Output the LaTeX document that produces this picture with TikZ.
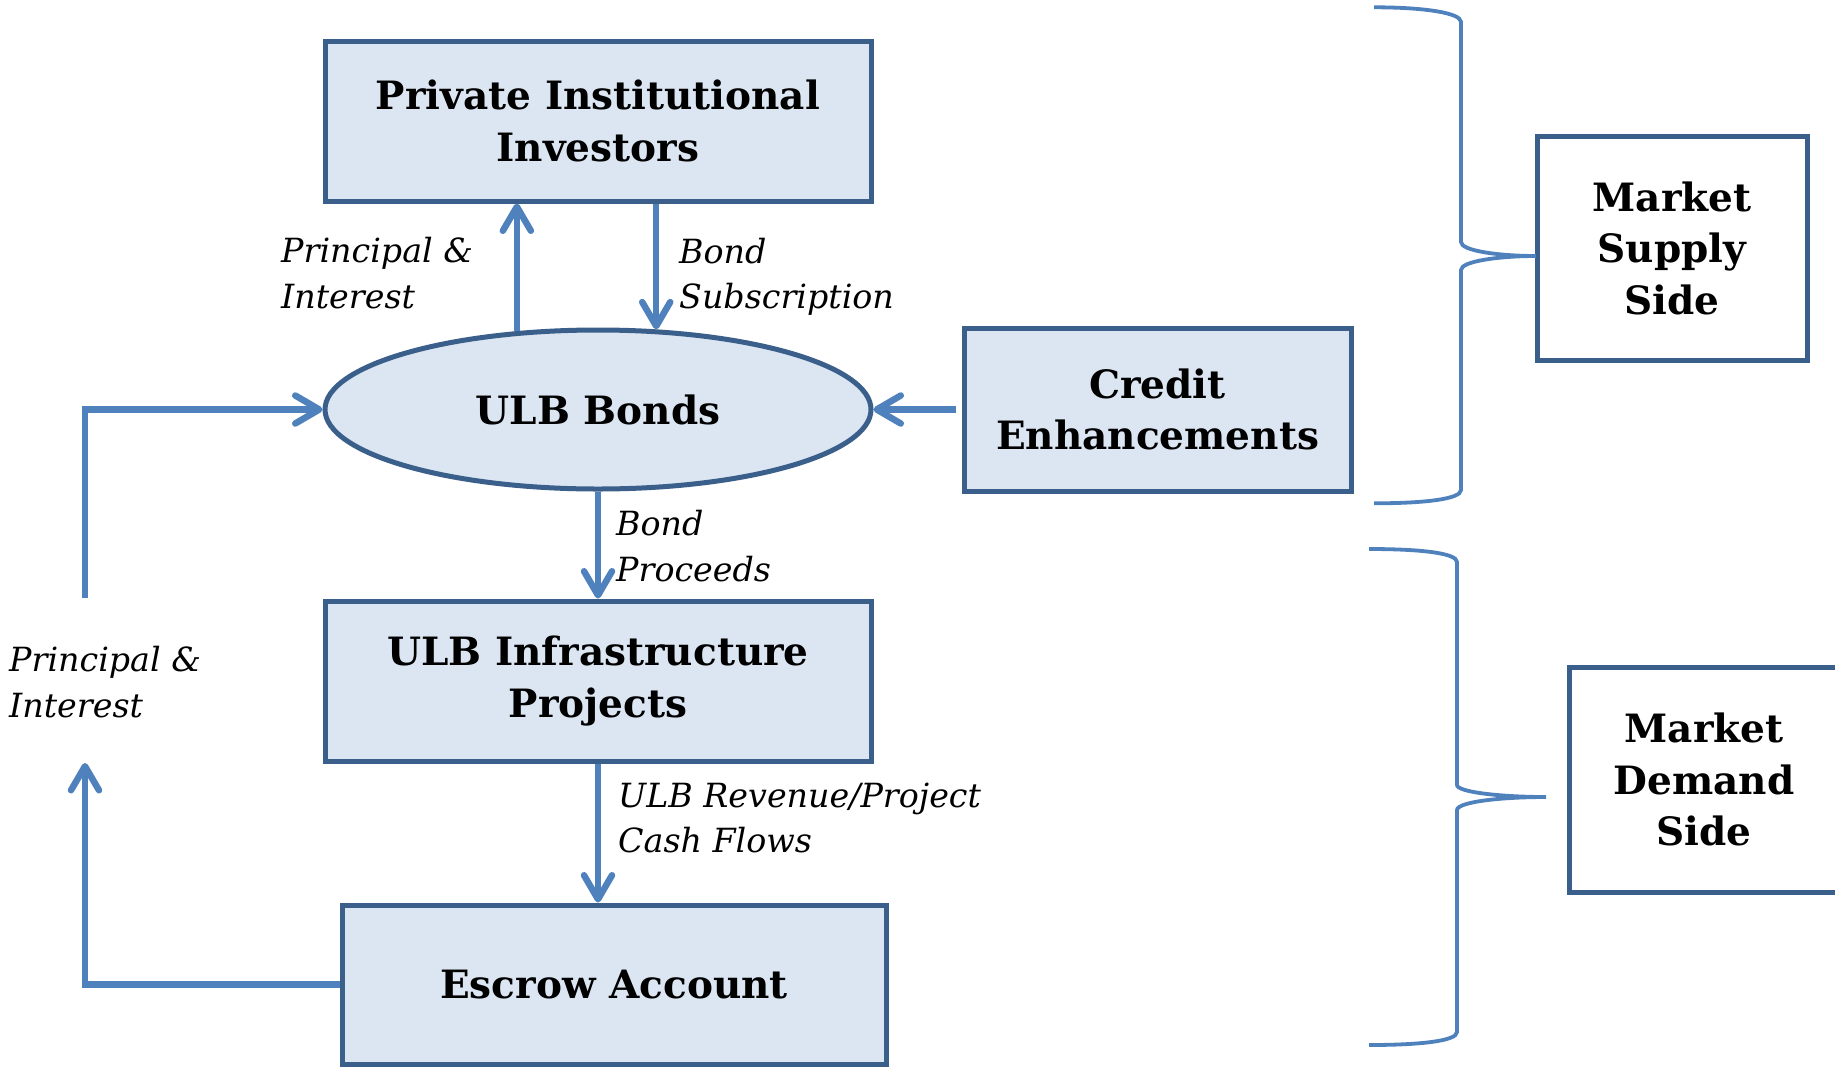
\documentclass[tikz,border=0pt]{standalone}
\usepackage{fontspec}
\setmainfont{DejaVu Serif}
\usetikzlibrary{arrows.meta,shapes.geometric}
\definecolor{boxfill}{HTML}{DCE6F2}
\definecolor{boxline}{HTML}{3A5F8B}
\definecolor{arrowc}{HTML}{4F81BD}
\tikzset{
 box/.style={draw=boxline, line width=5pt, fill=boxfill, align=center,
   font=\bfseries\fontsize{39}{51.5}\selectfont, inner sep=0pt},
 sidebox/.style={box, fill=white},
 conn/.style={draw=arrowc, line width=6.5pt},
 arr/.style={conn, -{Straight Barb[length=24pt,width=28pt,round]}},
 lbl/.style={font=\itshape\fontsize{33.3}{45.6}\selectfont, align=left, inner sep=0pt, anchor=west},
 bracec/.style={draw=arrowc, line width=3.8pt},
}
\begin{document}
\begin{tikzpicture}[x=1pt,y=-1pt]
\useasboundingbox[fill=white] (0,0) rectangle (1835,1066);
% nodes
\node[box, minimum width=546pt, minimum height=160pt] (pii) at (598,121) {Private Institutional\\Investors};
\node[box, ellipse, minimum width=546pt, minimum height=159pt] (ell) at (598,409.5) {ULB Bonds};
\node[box, minimum width=387pt, minimum height=163pt] (cred) at (1157.5,409.5) {Credit\\Enhancements};
\node[box, minimum width=546pt, minimum height=160pt] (infra) at (598,681) {ULB Infrastructure\\Projects};
\node[box, minimum width=544pt, minimum height=159pt] (esc) at (614,984.5) {Escrow Account};
\node[sidebox, minimum width=270pt, minimum height=224pt] (sup) at (1672,248) {Market\\Supply\\Side};
\node[sidebox, minimum width=270pt, minimum height=225pt] (dem) at (1704,779.5) {Market\\Demand\\Side};
% connectors
\draw[arr] (ell.136.9) -- (ell.136.9 |- pii.south);
\draw[arr] (pii.south -| ell.54.8) -- (ell.54.8);
\draw[arr, shorten <=6pt] (cred.west) -- (ell.east);
\draw[arr] (ell.south) -- (infra.north);
\draw[arr] (infra.south) -- (esc.north -| infra.south);
\coordinate (lp1) at (85,763);
\coordinate (lp2) at (85,598);
\draw[arr] (esc.west) -| (lp1);
\draw[arr] (lp2) |- (ell.west);
% labels
\node[lbl] (l1) at (281,273) {Principal \&\\Interest};
\node[lbl] (l2) at (679,277) {Bond\\Subscription};
\node[lbl] (l3) at (616,546) {Bond\\Proceeds};
\node[lbl] (l4) at (618,818) {ULB Revenue/Project\\Cash Flows};
\node[lbl] (l5) at (9,682) {Principal \&\\Interest};
% braces
\draw[bracec] (1374,7.3) .. controls (1425,7.3) and (1461,13) .. (1461,22) -- (1461,242)
  .. controls (1461,251) and (1500,256) .. (1536,256)
  .. controls (1500,256) and (1461,261) .. (1461,270) -- (1461,490)
  .. controls (1461,499) and (1425,503.3) .. (1374,503.3);
\draw[bracec] (1369,549) .. controls (1420,549) and (1457,553) .. (1457,562) -- (1457,785)
  .. controls (1457,792) and (1500,797) .. (1546,797)
  .. controls (1500,797) and (1457,802) .. (1457,810) -- (1457,1032)
  .. controls (1457,1041) and (1420,1045) .. (1369,1045);
\end{tikzpicture}
\end{document}
